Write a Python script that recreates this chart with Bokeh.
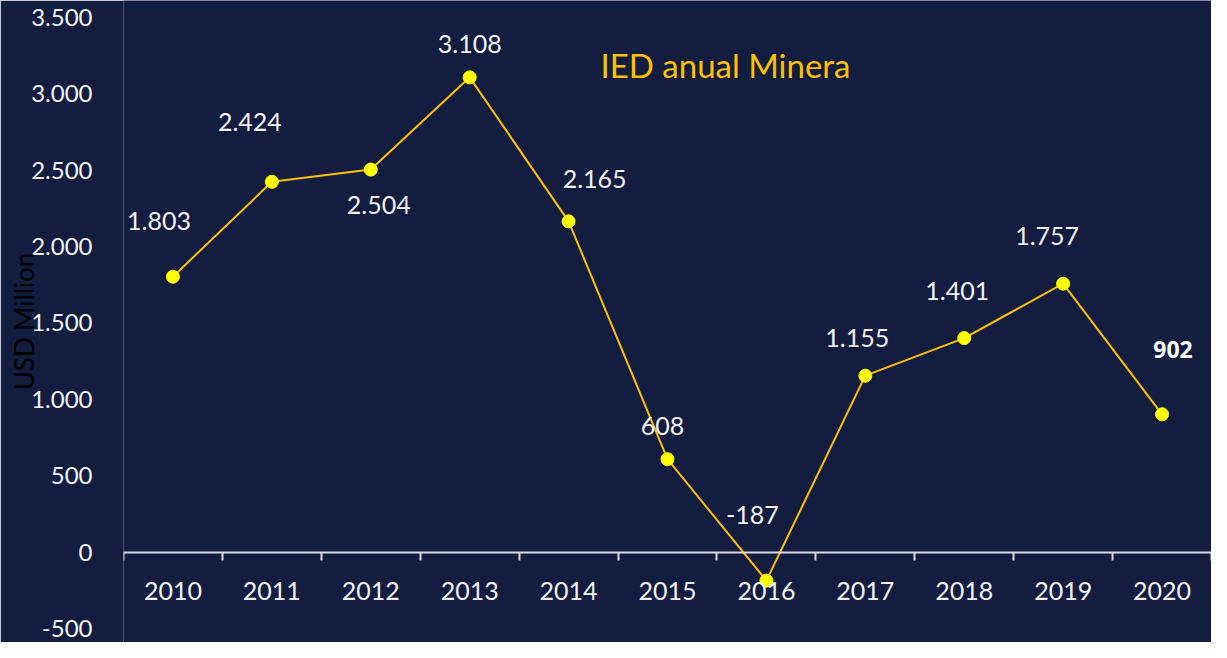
import math
from bokeh.plotting import figure
from bokeh.models import ColumnDataSource, Range1d, FixedTicker, Label
from bokeh.core.properties import value
from bokeh.embed import file_html
from bokeh.resources import INLINE

# ---- data ----
years = [2010, 2011, 2012, 2013, 2014, 2015, 2016, 2017, 2018, 2019, 2020]
ied = [1803, 2424, 2504, 3108, 2165, 608, -187, 1155, 1401, 1757, 902]
value_labels = ["1.803", "2.424", "2.504", "3.108", "2.165", "608", "-187",
                "1.155", "1.401", "1.757", "902"]
y_ticks = [-500, 0, 500, 1000, 1500, 2000, 2500, 3000, 3500]
y_tick_labels = ["-500", "0", "500", "1.000", "1.500", "2.000", "2.500", "3.000", "3.500"]
x_tick_labels = ["2010", "2011", "2012", "2013", "2014", "2015", "2016", "2017", "2018", "2019", "2020"]
chart_title = "IED anual Minera"
y_title = "USD Million"

# label offsets in screen pixels (style, not data)
dx = [-14, -22, 8, 0, 26, -5, -14, -8, -7, -16, 11]
dy = [-56, -60, 35, -33, -42, -33, -66, -38, -47, -48, -65]

W, H = 1211, 642
LEFT = 123
Y_TOP, Y_BOT = 3611, -592
X0, X1 = 2009.5, 2020.5

BG = "#131d40"
WHITE = "#f2f2f2"
FONT = "Lato"

sx = (W - LEFT) / (X1 - X0)
sy = H / (Y_TOP - Y_BOT)


def xd(px):
    return X0 + (px - LEFT) / sx


def yd(py):
    return Y_TOP - py / sy


p = figure(width=W, height=H, output_backend="svg", toolbar_location=None,
           x_range=Range1d(X0, X1), y_range=Range1d(Y_BOT, Y_TOP),
           x_axis_location="below", y_axis_location="left",
           min_border_left=LEFT, min_border_right=0, min_border_top=0, min_border_bottom=0)
p.background_fill_color = BG
p.border_fill_color = BG
p.outline_line_color = None
p.grid.visible = False

# y axis
ya = p.yaxis[0]
ya.ticker = FixedTicker(ticks=y_ticks)
ya.major_label_overrides = {t: l for t, l in zip(y_ticks, y_tick_labels)}
ya.axis_line_color = None
ya.major_tick_line_color = None
ya.minor_tick_line_color = None
ya.major_label_text_color = WHITE
ya.major_label_text_font = FONT
ya.major_label_text_font_size = "24px"
ya.major_label_standoff = 25
ya.axis_label = y_title
ya.axis_label_text_color = "#000000"
ya.axis_label_text_font = FONT
ya.axis_label_text_font_style = "normal"
ya.axis_label_text_font_size = "26px"
ya.axis_label_standoff = -12

# x axis at y = 0: labels at year centres, ticks at category boundaries
xa = p.xaxis[0]
xa.fixed_location = 0
xa.ticker = FixedTicker(ticks=years,
                        minor_ticks=[y - 0.5 for y in years] + [years[-1] + 0.5])
xa.major_label_overrides = {y: l for y, l in zip(years, x_tick_labels)}
xa.axis_line_color = "#d9d9d9"
xa.axis_line_width = 2
xa.major_tick_line_color = None
xa.major_tick_in = 0
xa.major_tick_out = 0
xa.minor_tick_line_color = "#d9d9d9"
xa.minor_tick_line_width = 2
xa.minor_tick_in = 0
xa.minor_tick_out = 8
xa.major_label_text_color = WHITE
xa.major_label_text_font = FONT
xa.major_label_text_font_size = "25px"
xa.major_label_standoff = 22

# line + markers
src = ColumnDataSource(dict(x=years, y=ied))
p.line("x", "y", source=src, line_color="#FFC000", line_width=2)
p.scatter("x", "y", source=src, size=13, fill_color="#FFFF00", line_color="#FFFF00")

# value labels
n = len(years)
reg = ColumnDataSource(dict(x=years[:n - 1], y=ied[:n - 1], lab=value_labels[:n - 1],
                            dx=dx[:n - 1], dy=dy[:n - 1]))
p.text("x", "y", text="lab", source=reg, x_offset="dx", y_offset="dy",
       text_color=WHITE, text_font=value(FONT), text_font_size="25px",
       text_align="center", text_baseline="middle")
last = ColumnDataSource(dict(x=years[n - 1:], y=ied[n - 1:], lab=value_labels[n - 1:],
                             dx=dx[n - 1:], dy=dy[n - 1:]))
p.text("x", "y", text="lab", source=last, x_offset="dx", y_offset="dy",
       text_color="#ffffff", text_font=value("Open Sans"), text_font_style="bold",
       text_font_size="23px", text_align="center", text_baseline="middle")

# title inside plot
p.add_layout(Label(x=xd(725), y=yd(64), text=chart_title, text_color="#FFC000",
                   text_font="Lato", text_font_size="33px",
                   text_align="center", text_baseline="middle"))

open("out.html", "w").write(file_html(p, INLINE))
